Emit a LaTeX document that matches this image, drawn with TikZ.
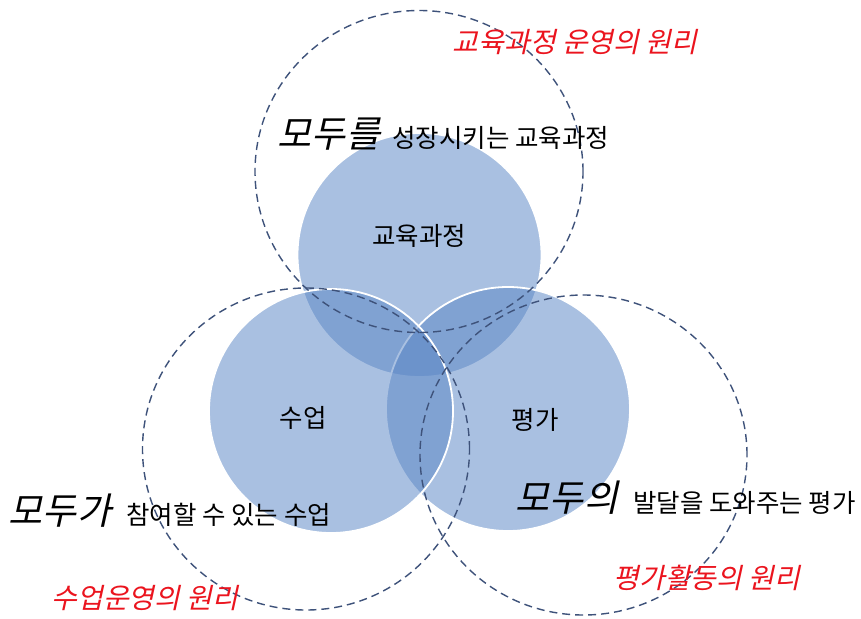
\documentclass[tikz,border=0pt]{standalone}
\usepackage{fontspec}
\setmainfont{Noto Sans CJK KR}
\newfontfamily\krit[FakeSlant=0.22]{Noto Sans CJK KR}
\definecolor{vennblue}{RGB}{91,135,198}
\definecolor{dashblue}{RGB}{62,82,122}
\definecolor{redtxt}{RGB}{235,20,30}
\begin{document}
\begin{tikzpicture}[x=1pt,y=-1pt,
  vennc/.style={circle,minimum size=244pt,inner sep=0pt,fill=vennblue,fill opacity=0.52,draw=white,line width=1.8pt},
  dashc/.style={draw=dashblue,line width=1.4pt,dash pattern=on 8pt off 5pt},
  lbl/.style={inner sep=0pt,font=\fontsize{25.5}{28}\selectfont},
  big/.style={inner sep=0pt,font=\krit\fontsize{37}{40}\selectfont},
  redl/.style={inner sep=0pt,text=redtxt,font=\krit\fontsize{28}{30}\selectfont}]
\useasboundingbox (0,0) rectangle (861,618);
\fill[white] (0,0) rectangle (861,618);
% filled circles
\node[vennc] (cur) at (419.5,255) {};
\node[vennc] (eva) at (508,409) {};
\node[vennc] (cls) at (331,411) {};
% dashed circles
\draw[dashc] (419,171.5) ellipse [x radius=164pt,y radius=161pt];
\draw[dashc] (306,449) ellipse [x radius=163.5pt,y radius=161pt];
\draw[dashc] (583.5,455) ellipse [x radius=163.5pt,y radius=160pt];
% labels
\node[lbl] (tcur) at (419,236) {교육과정};
\node[lbl] (tcls) at (303,418) {수업};
\node[lbl] (teva) at (535,420) {평가};
\node[redl] (r1) at (575,42) {교육과정 운영의 원리};
\node[redl] (r2) at (145,598) {수업운영의 원리};
\node[redl] (r3) at (707,578) {평가활동의 원리};
\node[big] (b1) at (329,134) {모두를};
\node[lbl,anchor=west] (s1) at (392,138) {성장시키는 교육과정};
\node[big] (b2) at (60,511) {모두가};
\node[lbl,anchor=west] (s2) at (126,515) {참여할 수 있는 수업};
\node[big] (b3) at (567,498) {모두의};
\node[lbl,anchor=west] (s3) at (633,503) {발달을 도와주는 평가};
\end{tikzpicture}
\end{document}
